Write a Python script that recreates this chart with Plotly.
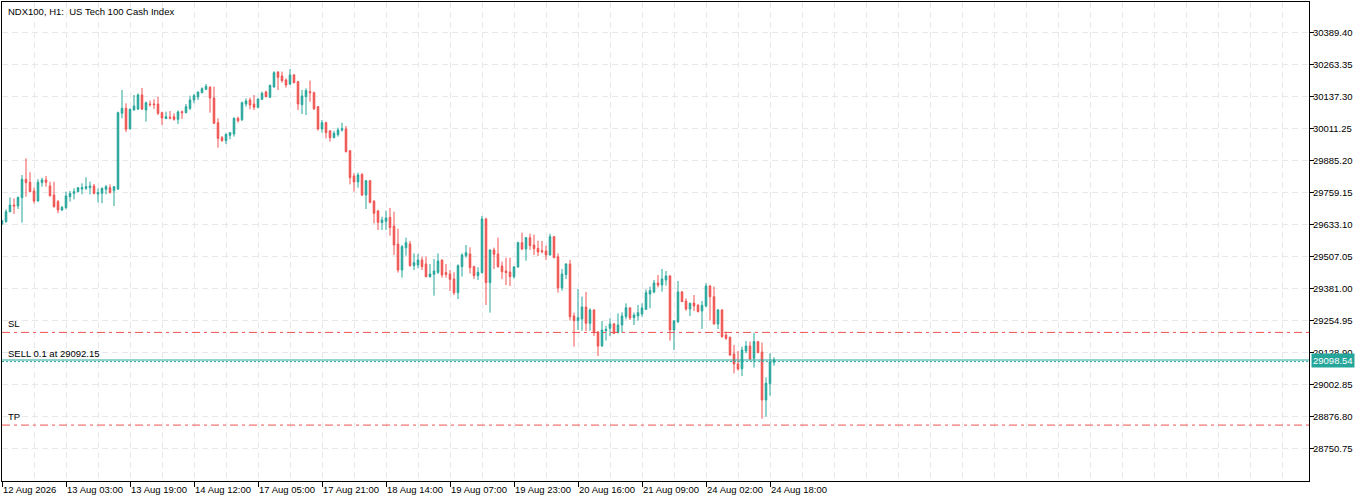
import plotly.graph_objects as go

# H1 bars, index 0 = 12 Aug 2026 (left edge of the chart)
bar_index = list(range(194))

opens = [
    29634.3, 29643.5, 29682.8, 29709.1, 29705.2, 29738.0, 29810.2, 29798.4, 29764.2, 29724.9,
    29797.1, 29807.6, 29783.9, 29748.5, 29722.3, 29689.4, 29698.6, 29741.9, 29755.1, 29761.6,
    29772.1, 29774.8, 29777.4, 29783.9, 29752.4, 29755.1, 29770.8, 29777.4, 29765.6, 29772.1,
    30070.2, 30089.9, 30008.5, 30083.3, 30087.2, 30142.4, 30083.3, 30106.9, 30106.9, 30106.9,
    30072.8, 30049.2, 30054.4, 30057.1, 30046.5, 30076.8, 30072.8, 30089.9, 30122.7, 30134.5,
    30151.6, 30164.7, 30172.6, 30130.6, 30033.4, 29974.3, 29962.5, 29983.5, 29988.8, 30050.5,
    30045.0, 30106.9, 30122.7, 30106.9, 30093.8, 30125.3, 30154.2, 30133.2, 30173.9, 30233.0,
    30217.2, 30201.5, 30185.7, 30221.2, 30194.9, 30104.3, 30135.9, 30155.5, 30151.6, 30096.4,
    30008.5, 30033.4, 30000.6, 29974.3, 29986.1, 30004.5, 30008.5, 29923.1, 29823.3, 29799.7,
    29829.9, 29748.5, 29804.9, 29723.7, 29685.5, 29639.5, 29644.8, 29660.5, 29626.4, 29555.5,
    29453.1, 29541.0, 29555.5, 29470.1, 29472.8, 29492.5, 29476.7, 29426.8, 29436.0, 29443.9,
    29492.5, 29442.6, 29437.3, 29417.6, 29363.8, 29466.2, 29509.5, 29516.1, 29466.2, 29430.7,
    29442.6, 29654.0, 29403.2, 29531.8, 29516.1, 29468.8, 29449.1, 29445.2, 29426.8, 29464.9,
    29560.7, 29535.8, 29580.4, 29551.5, 29538.4, 29529.2, 29527.9, 29512.2, 29584.4, 29505.6,
    29382.2, 29434.7, 29476.7, 29271.9, 29253.5, 29260.1, 29307.3, 29243.0, 29295.5, 29208.9,
    29153.7, 29214.1, 29223.3, 29240.4, 29206.2, 29236.4, 29269.3, 29303.4, 29265.3, 29271.9,
    29279.8, 29298.1, 29358.5, 29366.4, 29401.9, 29394.0, 29413.7, 29429.4, 29216.7, 29248.3,
    29366.4, 29330.9, 29299.4, 29323.1, 29313.9, 29291.6, 29311.3, 29390.0, 29348.0, 29240.4,
    29295.5, 29197.1, 29187.9, 29122.2, 29082.8, 29064.4, 29134.0, 29153.7, 29105.2, 29170.8,
    29130.1, 28941.0, 29005.4, 29089.4,
]
highs = [
    29649.0, 29692.0, 29739.3, 29735.4, 29741.9, 29827.3, 29892.9, 29837.8, 29777.4, 29810.2,
    29816.8, 29823.3, 29801.0, 29801.0, 29728.8, 29705.2, 29761.6, 29764.2, 29774.8, 29778.7,
    29794.5, 29818.1, 29801.0, 29791.8, 29774.8, 29777.4, 29787.9, 29790.5, 29783.9, 30076.7,
    30162.1, 30109.6, 30089.9, 30142.4, 30149.0, 30170.0, 30116.1, 30120.1, 30125.3, 30135.9,
    30076.7, 30076.7, 30079.4, 30070.2, 30082.0, 30080.7, 30107.0, 30139.8, 30146.3, 30155.5,
    30172.6, 30185.7, 30177.9, 30175.2, 30050.5, 29980.9, 29991.4, 29995.3, 30054.4, 30057.1,
    30116.1, 30129.3, 30131.9, 30142.4, 30129.3, 30155.5, 30159.5, 30183.1, 30235.6, 30235.6,
    30234.3, 30208.0, 30244.8, 30225.2, 30197.5, 30162.1, 30168.7, 30198.9, 30155.5, 30099.1,
    30043.9, 30037.3, 30004.5, 30000.6, 30013.7, 30033.4, 30020.3, 29925.8, 29833.8, 29836.5,
    29833.8, 29807.6, 29807.6, 29728.8, 29689.4, 29663.2, 29686.8, 29697.3, 29682.8, 29615.9,
    29551.6, 29580.4, 29567.3, 29518.7, 29516.1, 29505.6, 29505.6, 29476.7, 29496.4, 29518.7,
    29494.0, 29476.7, 29453.1, 29443.9, 29475.4, 29518.7, 29551.6, 29542.3, 29470.1, 29463.6,
    29665.8, 29659.2, 29534.5, 29541.0, 29580.4, 29485.9, 29501.6, 29501.6, 29468.8, 29564.7,
    29600.1, 29583.1, 29596.2, 29592.2, 29568.6, 29567.3, 29548.9, 29596.2, 29587.0, 29518.7,
    29457.0, 29479.3, 29492.5, 29285.0, 29378.2, 29348.0, 29366.4, 29302.0, 29298.1, 29211.5,
    29252.1, 29232.5, 29262.7, 29244.3, 29282.4, 29286.3, 29321.8, 29307.3, 29285.0, 29315.2,
    29321.8, 29376.9, 29387.4, 29413.7, 29433.4, 29457.0, 29449.1, 29433.4, 29256.1, 29409.7,
    29370.4, 29341.5, 29324.4, 29354.6, 29319.1, 29330.9, 29400.6, 29394.0, 29387.4, 29299.4,
    29298.2, 29210.2, 29190.5, 29157.7, 29134.0, 29151.1, 29173.4, 29170.8, 29206.3, 29173.4,
    29166.9, 29030.3, 29124.9, 29109.1,
]
lows = [
    29630.0, 29639.5, 29680.2, 29673.7, 29693.4, 29639.5, 29741.9, 29759.0, 29715.7, 29722.3,
    29781.3, 29781.3, 29741.9, 29698.6, 29676.3, 29685.5, 29692.0, 29722.3, 29731.4, 29759.0,
    29751.1, 29768.2, 29751.1, 29751.1, 29719.6, 29715.7, 29751.1, 29755.1, 29705.2, 29768.2,
    30050.5, 29996.7, 30007.2, 30080.7, 30083.3, 30083.3, 30037.3, 30096.4, 30087.2, 30063.6,
    30024.2, 30047.9, 30046.5, 30041.3, 30028.2, 30047.9, 30070.2, 30083.3, 30109.6, 30122.7,
    30149.0, 30162.1, 30072.8, 30028.2, 29934.9, 29958.6, 29949.4, 29967.8, 29978.3, 30033.4,
    30040.0, 30096.4, 30086.0, 30083.3, 30089.9, 30122.7, 30133.2, 30130.6, 30171.3, 30162.1,
    30191.0, 30171.3, 30181.8, 30188.4, 30083.3, 30067.6, 30063.6, 30116.1, 30083.3, 30001.9,
    29994.0, 29971.7, 29958.6, 29971.7, 29978.3, 29998.0, 29916.5, 29790.5, 29761.6, 29777.4,
    29744.6, 29693.3, 29715.7, 29636.9, 29610.6, 29610.6, 29610.6, 29588.3, 29512.2, 29442.6,
    29422.9, 29509.5, 29466.2, 29453.1, 29459.6, 29453.1, 29424.2, 29422.9, 29351.9, 29437.3,
    29422.9, 29422.9, 29370.3, 29354.6, 29338.8, 29426.8, 29501.6, 29439.9, 29417.6, 29413.7,
    29439.9, 29315.2, 29285.0, 29457.0, 29462.3, 29417.6, 29394.0, 29390.0, 29418.9, 29462.3,
    29531.9, 29489.8, 29531.9, 29512.2, 29508.2, 29518.7, 29492.5, 29509.5, 29499.0, 29363.8,
    29371.7, 29417.6, 29253.5, 29151.1, 29216.7, 29214.1, 29212.8, 29214.1, 29193.1, 29114.3,
    29151.0, 29174.7, 29193.1, 29201.0, 29203.6, 29206.2, 29258.7, 29256.1, 29236.4, 29253.5,
    29269.3, 29295.5, 29302.1, 29361.1, 29384.8, 29367.7, 29391.4, 29174.7, 29138.0, 29245.6,
    29327.0, 29292.9, 29271.9, 29291.6, 29286.3, 29220.7, 29306.0, 29253.5, 29238.0, 29220.7,
    29186.6, 29177.4, 29114.3, 29046.1, 29056.6, 29035.6, 29124.9, 29098.6, 29068.4, 29124.9,
    28867.5, 28875.4, 28958.1, 29076.3,
]
closes = [
    29647.4, 29682.8, 29709.1, 29705.2, 29739.3, 29810.2, 29797.1, 29761.6, 29724.9, 29798.4,
    29807.6, 29798.4, 29745.9, 29702.6, 29689.4, 29699.9, 29744.6, 29755.1, 29761.6, 29777.4,
    29777.4, 29781.3, 29783.9, 29755.1, 29757.7, 29774.8, 29781.3, 29757.7, 29781.3, 30072.8,
    30089.9, 30007.2, 30085.9, 30099.1, 30142.4, 30087.2, 30112.2, 30104.3, 30104.3, 30070.2,
    30051.8, 30057.1, 30051.8, 30046.5, 30075.4, 30072.8, 30096.5, 30122.7, 30139.8, 30154.2,
    30167.3, 30176.5, 30130.6, 30030.8, 29971.7, 29962.5, 29987.5, 29994.0, 30050.5, 30041.3,
    30112.2, 30118.8, 30103.1, 30093.8, 30126.7, 30149.0, 30135.9, 30180.5, 30230.4, 30212.0,
    30198.9, 30181.8, 30221.2, 30191.0, 30106.9, 30138.5, 30159.5, 30151.6, 30088.6, 30008.5,
    30033.4, 29994.0, 29974.3, 29991.4, 30004.5, 30009.8, 29919.2, 29816.8, 29799.7, 29827.3,
    29748.5, 29804.9, 29719.6, 29676.3, 29640.8, 29650.0, 29657.9, 29619.8, 29551.6, 29453.1,
    29545.0, 29560.7, 29470.1, 29481.9, 29492.5, 29466.2, 29426.8, 29437.3, 29449.1, 29488.5,
    29433.4, 29436.0, 29416.3, 29363.8, 29470.1, 29512.2, 29521.3, 29462.3, 29430.7, 29443.9,
    29654.0, 29403.2, 29531.8, 29514.8, 29466.2, 29446.5, 29442.6, 29426.8, 29464.9, 29560.7,
    29535.8, 29580.4, 29548.9, 29537.1, 29524.0, 29525.3, 29512.2, 29584.4, 29501.6, 29382.2,
    29437.3, 29476.7, 29269.3, 29253.5, 29265.3, 29307.3, 29243.0, 29295.5, 29206.2, 29153.7,
    29216.7, 29219.4, 29240.4, 29203.6, 29236.4, 29271.9, 29304.7, 29264.0, 29275.8, 29285.0,
    29303.4, 29363.8, 29371.7, 29401.9, 29394.0, 29417.6, 29429.4, 29216.7, 29252.2, 29366.4,
    29328.3, 29299.4, 29321.8, 29311.3, 29289.0, 29313.9, 29390.0, 29348.0, 29240.4, 29295.5,
    29190.5, 29183.9, 29118.3, 29082.8, 29063.1, 29138.0, 29153.7, 29102.5, 29170.8, 29127.5,
    28941.0, 29006.7, 29090.7, 29098.5,
]

price_ticks = [28750.75, 28876.80, 29002.85, 29128.90, 29254.95, 29381.00, 29507.05,
               29633.10, 29759.15, 29885.20, 30011.25, 30137.30, 30263.35, 30389.40]
price_tick_text = ["28750.75", "28876.80", "29002.85", "29128.90", "29254.95", "29381.00",
                   "29507.05", "29633.10", "29759.15", "29885.20", "30011.25", "30137.30",
                   "30263.35", "30389.40"]
time_tick_bars = [0, 16, 32, 48, 64, 80, 96, 112, 128, 144, 160, 176, 192]
time_tick_text = ["12 Aug 2026", "13 Aug 03:00", "13 Aug 19:00", "14 Aug 12:00",
                  "17 Aug 05:00", "17 Aug 21:00", "18 Aug 14:00", "19 Aug 07:00",
                  "19 Aug 23:00", "20 Aug 16:00", "21 Aug 09:00", "24 Aug 02:00",
                  "24 Aug 18:00"]

symbol_title = "NDX100, H1:\u00a0 US Tech 100 Cash Index"
bid_price = 29098.54
entry_price = 29092.15
entry_label = "SELL 0.1 at 29092.15"
stop_loss = 29207.15
take_profit = 28842.15

BULL = "#26a69a"
BEAR = "#ef5350"
GRID = "#e8e8ec"
FONT = "Liberation Sans"

fig = go.Figure(go.Candlestick(
    x=bar_index, open=opens, high=highs, low=lows, close=closes,
    increasing=dict(line=dict(color=BULL, width=1), fillcolor=BULL),
    decreasing=dict(line=dict(color=BEAR, width=1), fillcolor=BEAR),
    whiskerwidth=0,
))

# vertical grid every 8 bars, labelled ticks every 16 (grid runs on past the last bar)
grid_bars = [b for b in range(8, 327, 8) if b not in time_tick_bars]

fig.update_layout(
    width=1366, height=501,
    margin=dict(l=2, r=57, t=2, b=20),
    paper_bgcolor="white", plot_bgcolor="white",
    showlegend=False,
    boxgap=0.45,
    font=dict(family=FONT, size=9.5, color="black"),
    xaxis=dict(
        range=[0, 326.75], rangeslider=dict(visible=False), automargin=False,
        tickmode="array", tickvals=time_tick_bars, ticktext=time_tick_text, tickangle=0,
        ticks="outside", ticklen=5, tickcolor="black",
        ticklabelposition="outside right",
        showline=True, linecolor="black", linewidth=1, mirror=True,
        showgrid=True, gridcolor=GRID, griddash="6px,4px", zeroline=False,
        minor=dict(tickvals=grid_bars, showgrid=True, gridcolor=GRID,
                   griddash="6px,4px", ticks=""),
    ),
    yaxis=dict(
        side="right", range=[28621.9, 30508.7], automargin=False,
        tickmode="array", tickvals=price_ticks, ticktext=price_tick_text,
        ticks="outside", ticklen=4, tickcolor="black", ticklabelstandoff=-3,
        showline=True, linecolor="black", linewidth=1, mirror=True,
        showgrid=True, gridcolor=GRID, griddash="6px,4px", zeroline=False,
    ),
)

# SL / TP / entry / bid lines across the whole chart
for level, color, dash in [(stop_loss, BEAR, "8px,4px,3px,4px"),
                           (take_profit, BEAR, "8px,4px,3px,4px"),
                           (entry_price, BULL, "2px,2px"),
                           (bid_price, BULL, "solid")]:
    fig.add_shape(type="line", xref="paper", x0=0, x1=1, yref="y", y0=level, y1=level,
                  line=dict(color=color, width=1, dash=dash))

fig.add_annotation(text=symbol_title, xref="paper", x=0, xanchor="left", xshift=4,
                   yref="paper", y=1, yanchor="top", yshift=-2, showarrow=False)
for level, label in [(stop_loss, "SL"), (entry_price, entry_label), (take_profit, "TP")]:
    fig.add_annotation(text=label, xref="paper", x=0, xanchor="left", xshift=4,
                       yref="y", y=level, yanchor="bottom", yshift=1, showarrow=False)

# current price tag on the price scale
fig.add_annotation(text=f"{bid_price:.2f}", xref="paper", x=1, xanchor="left", xshift=2,
                   yref="y", y=bid_price, yanchor="middle", showarrow=False,
                   bgcolor=BULL, borderpad=1, font=dict(color="white", size=9.5, family=FONT))

# the page's default body margin would push the chart 8px off the corner
fig.write_html("out.html", config={"displayModeBar": False},
               post_script="document.body.style.margin='0';")
